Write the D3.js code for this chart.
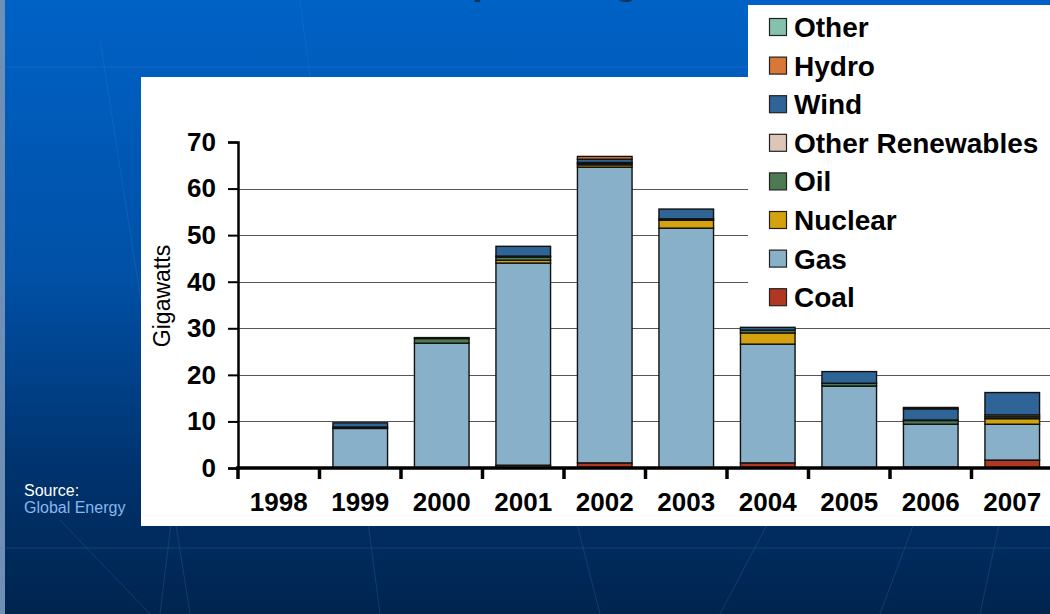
<!DOCTYPE html>
<html>
<head>
<meta charset="utf-8">
<script src="https://cdn.jsdelivr.net/npm/d3@7"></script>
<style>
  html, body { margin: 0; padding: 0; background: #003a7a; }
  svg { display: block; font-family: "Liberation Sans", Arial, sans-serif; }
</style>
</head>
<body>
<svg id="chart" width="1050" height="614"></svg>
<script>
// Data (gigawatts added per year)
const years = ["1998", "1999", "2000", "2001", "2002", "2003", "2004", "2005", "2006", "2007"];
const sources = ["Coal", "Gas", "Nuclear", "Oil", "Other Renewables", "Wind", "Hydro", "Other"];
const coal      = [0, 0,    0,    0.6,  1.1,  0,    1.1,  0,    0.2, 1.7];
const gas       = [0, 8.5,  26.8, 43.4, 63.5, 51.5, 25.5, 17.6, 9.2, 7.7];
const nuclear   = [0, 0,    0,    0.6,  0.5,  1.7,  2.4,  0,    0,   1.2];
const oil       = [0, 0.3,  1.0,  0.7,  0.3,  0.3,  0.6,  0.6,  0.8, 0.4];
const otherRen  = [0, 0,    0,    0.2,  0.2,  0,    0,    0,    0.1, 0.4];
const wind      = [0, 0.9,  0.2,  2.1,  0.7,  2.1,  0.6,  2.5,  2.4, 4.8];
const hydro     = [0, 0,    0,    0,    0.6,  0,    0,    0,    0.3, 0];
const other     = [0, 0,    0,    0,    0,    0,    0,    0,    0,   0];
const yTicks = [0, 10, 20, 30, 40, 50, 60, 70];

const seriesValues = [coal, gas, nuclear, oil, otherRen, wind, hydro, other];
const colors = ["#b03822", "#88b0c8", "#d4a20e", "#4e7a52", "#dcc6b8", "#2e6496", "#d87836", "#84c2ae"];

const svg = d3.select("#chart");
const W = 1050, H = 614;

// slide background
const defs = svg.append("defs");
const grad = defs.append("linearGradient").attr("id", "bg").attr("x1", 0).attr("y1", 0).attr("x2", 0).attr("y2", 1);
grad.append("stop").attr("offset", "0%").attr("stop-color", "#0062c6");
grad.append("stop").attr("offset", "45%").attr("stop-color", "#0050a6");
grad.append("stop").attr("offset", "75%").attr("stop-color", "#003470");
grad.append("stop").attr("offset", "100%").attr("stop-color", "#00244e");
svg.append("rect").attr("width", W).attr("height", H).attr("fill", "url(#bg)");
svg.append("rect").attr("width", 5).attr("height", H).attr("fill", "#6f8fb4");

// faint globe grid lines
const deco = svg.append("g").attr("stroke", "#3f7fd0").attr("stroke-opacity", 0.25).attr("fill", "none");
[67, 548].forEach(y => deco.append("line").attr("x1", 0).attr("x2", W).attr("y1", y).attr("y2", y));
[[100, 40, 190, 614], [300, 0, 380, 614], [520, 300, 600, 614], [60, 520, 150, 614], [780, 500, 720, 614], [930, 480, 880, 614], [1000, 520, 980, 614], [220, 120, 160, 614]]
  .forEach(d => deco.append("line").attr("x1", d[0]).attr("y1", d[1]).attr("x2", d[2]).attr("y2", d[3]));

// title (cut off at top of the slide, only descenders show)
svg.append("text").attr("x", 443).attr("y", -6)
  .attr("font-size", 40).attr("font-weight", "bold").attr("fill", "#1a1a1a").attr("opacity", 0.6)
  .text("Upcoming Generation");
svg.append("text").attr("x", 441).attr("y", -8)
  .attr("font-size", 40).attr("font-weight", "bold").attr("fill", "#f2a900")
  .text("Upcoming Generation");

// source note
svg.append("text").attr("x", 24).attr("y", 496).attr("font-size", 16).attr("fill", "#ffffff").text("Source:");
svg.append("text").attr("x", 24).attr("y", 513).attr("font-size", 16).attr("fill", "#8ab6ee").text("Global Energy");

// white chart panel
svg.append("rect").attr("x", 141).attr("y", 77).attr("width", W - 141).attr("height", 449).attr("fill", "#ffffff");

const margin = { left: 238, right: 1053, top: 142, bottom: 468 };
const x = d3.scaleBand().domain(years).range([margin.left, margin.right]).paddingInner(0.33).paddingOuter(0.165);
const y = d3.scaleLinear().domain([0, 70]).range([margin.bottom, margin.top]);

// gridlines
svg.append("g").selectAll("line").data(yTicks.filter(t => t > 0 && t < 70)).join("line")
  .attr("x1", margin.left).attr("x2", W)
  .attr("y1", d => Math.round(y(d)) + 0.5).attr("y2", d => Math.round(y(d)) + 0.5)
  .attr("stroke", "#555").attr("stroke-width", 1.2);

// stacked bars
const rows = years.map((yr, i) => {
  const r = { year: yr };
  sources.forEach((s, k) => r[s] = seriesValues[k][i]);
  return r;
});
const stack = d3.stack().keys(sources)(rows);
svg.append("g").selectAll("g").data(stack).join("g")
  .attr("fill", (d, i) => colors[i])
  .selectAll("rect").data(d => d.filter(p => p[1] - p[0] > 0)).join("rect")
  .attr("x", d => x(d.data.year))
  .attr("width", x.bandwidth())
  .attr("y", d => y(d[1]))
  .attr("height", d => y(d[0]) - y(d[1]))
  .attr("stroke", "#111").attr("stroke-width", 1.4);

// y axis
const yAxis = svg.append("g").attr("transform", `translate(${margin.left},0)`)
  .call(d3.axisLeft(y).tickValues(yTicks).tickSize(10).tickPadding(12));
yAxis.select(".domain").attr("stroke", "#000").attr("stroke-width", 2.5);
yAxis.selectAll(".tick line").attr("stroke", "#000").attr("stroke-width", 2);
yAxis.selectAll(".tick text").attr("font-size", 26).attr("font-weight", "bold").attr("fill", "#000")
  .attr("font-family", "'Liberation Sans', Arial, sans-serif");

// x axis
const xAxisScale = d3.scalePoint().domain(d3.range(years.length + 1)).range([margin.left, margin.right]);
const xAxis = svg.append("g").attr("transform", `translate(0,${margin.bottom})`);
xAxis.append("line").attr("x1", margin.left - 2).attr("x2", W).attr("stroke", "#000").attr("stroke-width", 3.5);
xAxis.selectAll("line.tk").data(d3.range(years.length)).join("line").attr("class", "tk")
  .attr("x1", d => xAxisScale(d)).attr("x2", d => xAxisScale(d))
  .attr("y1", 0).attr("y2", 11).attr("stroke", "#000").attr("stroke-width", 3.5);
xAxis.selectAll("text").data(years).join("text")
  .attr("x", d => x(d) + x.bandwidth() / 2).attr("y", 43)
  .attr("text-anchor", "middle").attr("font-size", 26).attr("font-weight", "bold").attr("fill", "#000")
  .text(d => d);

// y label
svg.append("text").attr("transform", "translate(170,296) rotate(-90)")
  .attr("text-anchor", "middle").attr("font-size", 23).attr("fill", "#000").text("Gigawatts");

// legend box (on top of panel)
svg.append("rect").attr("x", 748).attr("y", 5).attr("width", W - 748).attr("height", 313).attr("fill", "#ffffff");
const legendOrder = sources.slice().reverse();
const legend = svg.append("g").selectAll("g").data(legendOrder).join("g")
  .attr("transform", (d, i) => `translate(769,${27 + i * 38.6})`);
legend.append("rect").attr("x", 0.5).attr("y", -8.5).attr("width", 17).attr("height", 17)
  .attr("fill", d => colors[sources.indexOf(d)]).attr("stroke", "#222").attr("stroke-width", 1.2);
legend.append("text").attr("x", 25).attr("y", 10)
  .attr("font-size", 28).attr("font-weight", "bold").attr("fill", "#000").text(d => d);
</script>
</body>
</html>
